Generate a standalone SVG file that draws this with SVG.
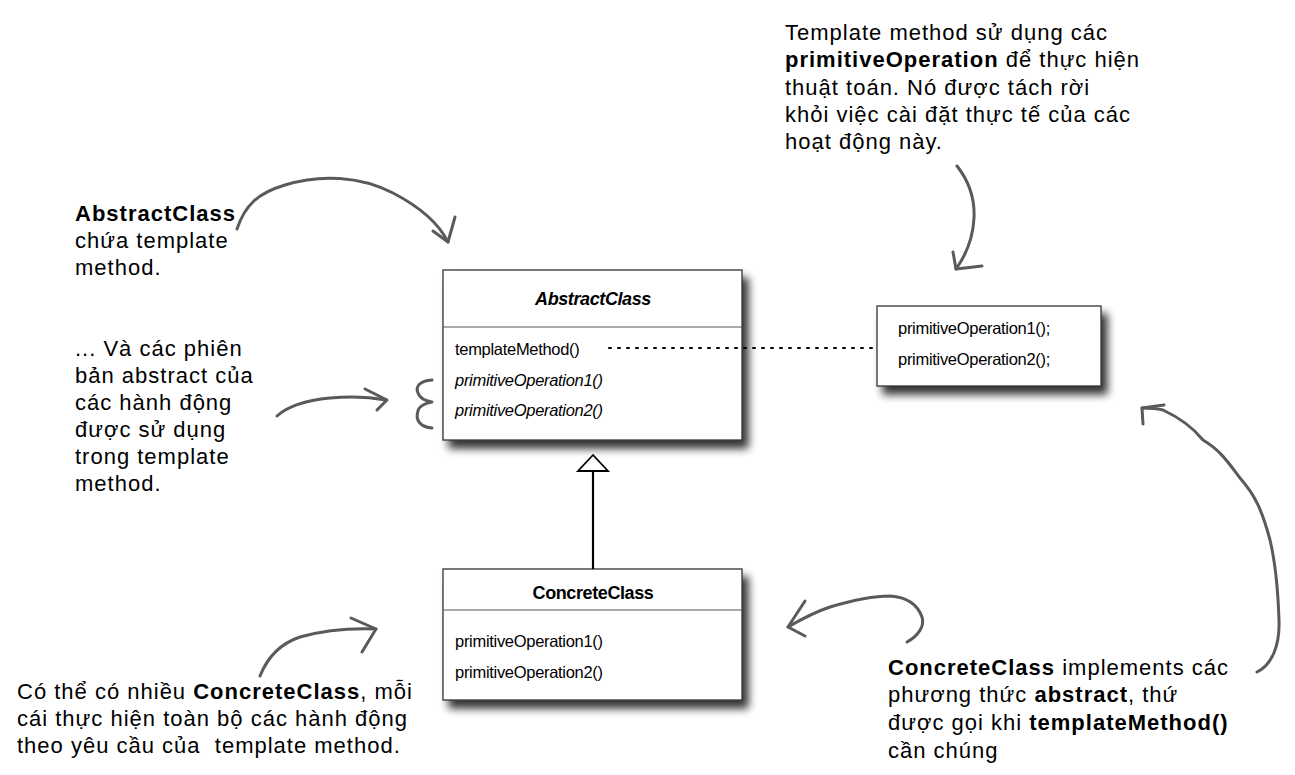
<svg xmlns="http://www.w3.org/2000/svg" width="1295" height="775" viewBox="0 0 1295 775">
<defs>
<filter id="sh" x="-10%" y="-10%" width="130%" height="140%">
<feGaussianBlur in="SourceAlpha" stdDeviation="4"/>
<feOffset dx="6" dy="8" result="b"/>
<feComponentTransfer><feFuncA type="linear" slope="0.8"/></feComponentTransfer>
<feMerge><feMergeNode/><feMergeNode in="SourceGraphic"/></feMerge>
</filter>
</defs>
<style>
.box{fill:#fff;stroke:#333;stroke-width:1.3}
.sep{stroke:#555;stroke-width:1.2}
.m{font-family:"Liberation Sans",Arial,sans-serif;font-size:16.5px;letter-spacing:-0.3px;fill:#000}
.t{font-family:"Liberation Sans",Arial,sans-serif;font-size:18px;letter-spacing:-0.4px;font-weight:bold;fill:#000;text-anchor:middle}
.n{font-family:"Liberation Sans",Arial,sans-serif;font-size:22px;letter-spacing:1px;fill:#000}
.b{font-weight:bold}
.hand{fill:none;stroke:#5a5a5a;stroke-width:3;stroke-linecap:round;stroke-linejoin:round}
</style>
<rect width="1295" height="775" fill="#fff"/>

<g id="abstractClass">
<rect class="box" x="443" y="270" width="299" height="170" filter="url(#sh)"/>
<line class="sep" x1="443" y1="327" x2="742" y2="327"/>
<text class="t" x="593" y="305" font-style="italic">AbstractClass</text>
<text class="m" x="455" y="355">templateMethod()</text>
<text class="m" x="455" y="386" font-style="italic">primitiveOperation1()</text>
<text class="m" x="455" y="416" font-style="italic">primitiveOperation2()</text>
</g>

<g id="templateBody">
<rect class="box" x="877" y="306" width="224" height="80" filter="url(#sh)"/>
<text class="m" x="898" y="334">primitiveOperation1();</text>
<text class="m" x="898" y="365">primitiveOperation2();</text>
</g>

<g id="concreteClass">
<rect class="box" x="443" y="569" width="299" height="131" filter="url(#sh)"/>
<line class="sep" x1="443" y1="610" x2="742" y2="610"/>
<text class="t" x="593" y="599">ConcreteClass</text>
<text class="m" x="455" y="647">primitiveOperation1()</text>
<text class="m" x="455" y="678">primitiveOperation2()</text>
</g>

<g id="connectors">
<line x1="593" y1="569" x2="593" y2="471" stroke="#000" stroke-width="2.2"/>
<polygon points="593,455 578,471 608,471" fill="#fff" stroke="#000" stroke-width="1.8"/>
<line x1="609" y1="348" x2="876" y2="348" stroke="#000" stroke-width="2" stroke-dasharray="2 7" stroke-linecap="round"/>
</g>

<g id="noteAbstract">
<text class="n" x="75" y="221"><tspan class="b">AbstractClass</tspan></text>
<text class="n" x="75" y="248">chứa template</text>
<text class="n" x="75" y="275">method.</text>
<path class="hand" d="M237,229 C245,205 258,193 285,185 C320,174 360,176 393,193 C420,207 438,222 448,242"/>
<path class="hand" d="M433,231 L448,242 L455,217"/>
</g>

<g id="noteAbstractOps">
<text class="n" x="75" y="356">... Và các phiên</text>
<text class="n" x="75" y="383">bản abstract của</text>
<text class="n" x="75" y="410">các hành động</text>
<text class="n" x="75" y="437">được sử dụng</text>
<text class="n" x="75" y="464">trong template</text>
<text class="n" x="75" y="491">method.</text>
<path class="hand" d="M277,416 C290,404 310,400 330,398 C350,396 370,397 386,400"/>
<path class="hand" d="M365,389 L387,400 L377,410"/>
<path class="hand" d="M432,380 C420,381 415,386 418,393 C420,399 426,401 432,402 C426,403 419,406 418,411 C415,420 420,427 432,428"/>
</g>

<g id="notePrimitive">
<text class="n" x="785" y="40">Template method sử dụng các</text>
<text class="n" x="785" y="67"><tspan class="b">primitiveOperation</tspan> để thực hiện</text>
<text class="n" x="785" y="95">thuật toán. Nó được tách rời</text>
<text class="n" x="785" y="122">khỏi việc cài đặt thực tế của các</text>
<text class="n" x="785" y="149">hoạt động này.</text>
<path class="hand" d="M957,166 C968,180 975,198 974,218 C973,238 966,255 956,269"/>
<path class="hand" d="M953,252 L956,269 L982,266"/>
</g>

<g id="noteConcreteMany">
<text class="n" x="17" y="699" xml:space="preserve">Có thể có nhiều <tspan class="b">ConcreteClass</tspan>, mỗi</text>
<text class="n" x="17" y="726">cái thực hiện toàn bộ các hành động</text>
<text class="n" x="17" y="753" xml:space="preserve">theo yêu cầu của  template method.</text>
<path class="hand" d="M260,676 C268,656 282,643 300,637 C325,630 350,628 376,629"/>
<path class="hand" d="M351,618 L376,629 L362,652"/>
</g>

<g id="noteConcreteImpl">
<text class="n" x="888" y="675"><tspan class="b">ConcreteClass</tspan> implements các</text>
<text class="n" x="888" y="702">phương thức <tspan class="b">abstract</tspan>, thứ</text>
<text class="n" x="888" y="730">được gọi khi <tspan class="b">templateMethod()</tspan></text>
<text class="n" x="888" y="758">cần chúng</text>
<path class="hand" d="M907,642 C918,636 925,626 922,617 C917,603 905,597 890,596 C870,596 850,601 830,607 C815,612 800,620 788,627"/>
<path class="hand" d="M805,601 L788,627 L805,636"/>
<path class="hand" d="M1257,672 C1272,665 1280,645 1279,620 C1278,590 1276,565 1270,540 C1262,510 1255,495 1240,478 C1228,462 1220,450 1203,440 C1195,430 1180,418 1163,410 C1155,408 1148,408 1142,408"/>
<path class="hand" d="M1143,424 L1142,408 L1164,405"/>
</g>
</svg>
